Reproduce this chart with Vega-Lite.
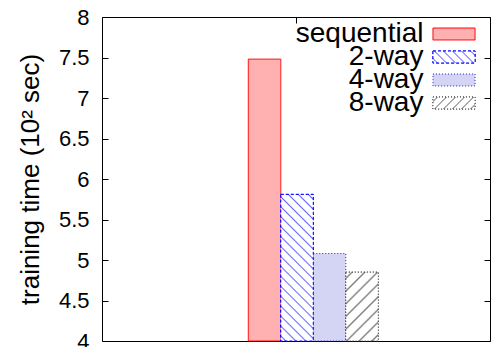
{
  "$schema": "https://vega.github.io/schema/vega-lite/v6.json",
  "width": 388,
  "height": 324,
  "autosize": "none",
  "padding": {"left": 102, "top": 17, "right": 1, "bottom": 6},
  "background": "white",
  "config": {
    "view": {"stroke": "#000", "strokeWidth": 1},
    "font": "Liberation Sans"
  },
  "data": {
    "values": [
      {"method": "sequential", "time": 7.48},
      {"method": "2-way", "time": 5.81},
      {"method": "4-way", "time": 5.08},
      {"method": "8-way", "time": 4.85}
    ]
  },
  "layer": [
    {
      "mark": {"type": "bar", "strokeWidth": 1},
      "encoding": {
        "x": {
          "field": "method", "type": "nominal",
          "scale": {"type": "band", "domain": ["_a", "_b", "_c", "_d", "sequential", "2-way", "4-way", "8-way", "_e", "_f", "_g"], "paddingInner": 0, "paddingOuter": 0.47, "align": 0.534},
          "axis": null
        },
        "y": {
          "field": "time", "type": "quantitative",
          "scale": {"domain": [4, 8], "zero": false},
          "axis": {
            "values": [4, 4.5, 5, 5.5, 6, 6.5, 7, 7.5, 8],
            "format": ".1~f",
            "grid": false,
            "domain": false,
            "tickSize": -6,
            "tickColor": "#000",
            "labelFontSize": 22,
            "labelColor": "#000",
            "labelPadding": 19,
            "title": "training time (10² sec)",
            "titleFontSize": 26,
            "titleFontWeight": "normal",
            "titleColor": "#000",
            "titlePadding": 15
          }
        },
        "y2": {"datum": 4},
        "fill": {
          "field": "method", "type": "nominal",
          "scale": {"domain": ["sequential", "2-way", "4-way", "8-way"], "range": ["#ffb0b0", "#dcdcfa", "#d4d4f4", "#e8e8e8"]},
          "legend": null
        },
        "stroke": {
          "field": "method", "type": "nominal",
          "scale": {"domain": ["sequential", "2-way", "4-way", "8-way"], "range": ["#ff0000", "#0000ff", "#2222cc", "#333333"]},
          "legend": null
        },
        "strokeDash": {
          "field": "method", "type": "nominal",
          "scale": {"domain": ["sequential", "2-way", "4-way", "8-way"], "range": [[1, 0], [3, 2], [1, 2], [1, 2]]},
          "legend": null
        }
      }
    },
    {
      "transform": [{"filter": "datum.method === '2-way'"}],
      "mark": {
        "type": "bar", "stroke": "#0000ff", "strokeWidth": 1, "strokeDash": [3, 2],
        "fill": {
          "gradient": "linear", "x1": 1, "y1": 0, "x2": 0.743, "y2": 1.164,
          "stops": [
            {"offset": 0, "color": "#ffffff"},
            {"offset": 0.0194, "color": "#ffffff"}, {"offset": 0.0278, "color": "#6a6aff"}, {"offset": 0.0361, "color": "#ffffff"},
            {"offset": 0.0750, "color": "#ffffff"}, {"offset": 0.0833, "color": "#6a6aff"}, {"offset": 0.0917, "color": "#ffffff"},
            {"offset": 0.1306, "color": "#ffffff"}, {"offset": 0.1389, "color": "#6a6aff"}, {"offset": 0.1472, "color": "#ffffff"},
            {"offset": 0.1861, "color": "#ffffff"}, {"offset": 0.1944, "color": "#6a6aff"}, {"offset": 0.2028, "color": "#ffffff"},
            {"offset": 0.2417, "color": "#ffffff"}, {"offset": 0.2500, "color": "#6a6aff"}, {"offset": 0.2583, "color": "#ffffff"},
            {"offset": 0.2972, "color": "#ffffff"}, {"offset": 0.3056, "color": "#6a6aff"}, {"offset": 0.3139, "color": "#ffffff"},
            {"offset": 0.3528, "color": "#ffffff"}, {"offset": 0.3611, "color": "#6a6aff"}, {"offset": 0.3694, "color": "#ffffff"},
            {"offset": 0.4083, "color": "#ffffff"}, {"offset": 0.4167, "color": "#6a6aff"}, {"offset": 0.4250, "color": "#ffffff"},
            {"offset": 0.4639, "color": "#ffffff"}, {"offset": 0.4722, "color": "#6a6aff"}, {"offset": 0.4806, "color": "#ffffff"},
            {"offset": 0.5194, "color": "#ffffff"}, {"offset": 0.5278, "color": "#6a6aff"}, {"offset": 0.5361, "color": "#ffffff"},
            {"offset": 0.5750, "color": "#ffffff"}, {"offset": 0.5833, "color": "#6a6aff"}, {"offset": 0.5917, "color": "#ffffff"},
            {"offset": 0.6306, "color": "#ffffff"}, {"offset": 0.6389, "color": "#6a6aff"}, {"offset": 0.6472, "color": "#ffffff"},
            {"offset": 0.6861, "color": "#ffffff"}, {"offset": 0.6944, "color": "#6a6aff"}, {"offset": 0.7028, "color": "#ffffff"},
            {"offset": 0.7417, "color": "#ffffff"}, {"offset": 0.7500, "color": "#6a6aff"}, {"offset": 0.7583, "color": "#ffffff"},
            {"offset": 0.7972, "color": "#ffffff"}, {"offset": 0.8056, "color": "#6a6aff"}, {"offset": 0.8139, "color": "#ffffff"},
            {"offset": 0.8528, "color": "#ffffff"}, {"offset": 0.8611, "color": "#6a6aff"}, {"offset": 0.8694, "color": "#ffffff"},
            {"offset": 0.9083, "color": "#ffffff"}, {"offset": 0.9167, "color": "#6a6aff"}, {"offset": 0.9250, "color": "#ffffff"},
            {"offset": 0.9639, "color": "#ffffff"}, {"offset": 0.9722, "color": "#6a6aff"}, {"offset": 0.9806, "color": "#ffffff"},
            {"offset": 1, "color": "#ffffff"}
          ]
        }
      },
      "encoding": {
        "x": {
          "field": "method", "type": "nominal",
          "scale": {"type": "band", "domain": ["_a", "_b", "_c", "_d", "sequential", "2-way", "4-way", "8-way", "_e", "_f", "_g"], "paddingInner": 0, "paddingOuter": 0.47, "align": 0.534},
          "axis": null
        },
        "y": {"field": "time", "type": "quantitative", "scale": {"domain": [4, 8], "zero": false}, "axis": null},
        "y2": {"datum": 4}
      }
    },
    {
      "transform": [{"filter": "datum.method === '8-way'"}],
      "mark": {
        "type": "bar", "stroke": "#333333", "strokeWidth": 1, "strokeDash": [1, 2],
        "fill": {
          "gradient": "linear", "x1": 0, "y1": 0, "x2": 0.567, "y2": 1.204,
          "stops": [
            {"offset": 0, "color": "#ffffff"},
            {"offset": 0.0438, "color": "#ffffff"}, {"offset": 0.0625, "color": "#7a7a7a"}, {"offset": 0.0813, "color": "#ffffff"},
            {"offset": 0.1688, "color": "#ffffff"}, {"offset": 0.1875, "color": "#7a7a7a"}, {"offset": 0.2063, "color": "#ffffff"},
            {"offset": 0.2938, "color": "#ffffff"}, {"offset": 0.3125, "color": "#7a7a7a"}, {"offset": 0.3313, "color": "#ffffff"},
            {"offset": 0.4188, "color": "#ffffff"}, {"offset": 0.4375, "color": "#7a7a7a"}, {"offset": 0.4563, "color": "#ffffff"},
            {"offset": 0.5438, "color": "#ffffff"}, {"offset": 0.5625, "color": "#7a7a7a"}, {"offset": 0.5813, "color": "#ffffff"},
            {"offset": 0.6688, "color": "#ffffff"}, {"offset": 0.6875, "color": "#7a7a7a"}, {"offset": 0.7063, "color": "#ffffff"},
            {"offset": 0.7938, "color": "#ffffff"}, {"offset": 0.8125, "color": "#7a7a7a"}, {"offset": 0.8313, "color": "#ffffff"},
            {"offset": 0.9188, "color": "#ffffff"}, {"offset": 0.9375, "color": "#7a7a7a"}, {"offset": 0.9563, "color": "#ffffff"},
            {"offset": 1, "color": "#ffffff"}
          ]
        }
      },
      "encoding": {
        "x": {
          "field": "method", "type": "nominal",
          "scale": {"type": "band", "domain": ["_a", "_b", "_c", "_d", "sequential", "2-way", "4-way", "8-way", "_e", "_f", "_g"], "paddingInner": 0, "paddingOuter": 0.47, "align": 0.534},
          "axis": null
        },
        "y": {"field": "time", "type": "quantitative", "scale": {"domain": [4, 8], "zero": false}, "axis": null},
        "y2": {"datum": 4}
      }
    },
    {
      "mark": {"type": "bar", "strokeWidth": 1, "height": {"band": 0.52}},
      "encoding": {
        "y": {
          "field": "method", "type": "nominal",
          "scale": {"type": "band", "domain": ["sequential", "2-way", "4-way", "8-way", "_1", "_2", "_3", "_4", "_5", "_6", "_7", "_8", "_9"], "paddingInner": 0, "paddingOuter": 0.543, "align": 0.22},
          "axis": null
        },
        "x": {"datum": 0.706, "type": "quantitative", "scale": {"domain": [-1, 1]}, "axis": null},
        "x2": {"datum": 0.923},
        "fill": {"field": "method", "type": "nominal", "legend": null},
        "stroke": {"field": "method", "type": "nominal", "legend": null},
        "strokeDash": {"field": "method", "type": "nominal", "legend": null}
      }
    },
    {
      "transform": [{"filter": "datum.method === '2-way'"}],
      "mark": {
        "type": "bar", "stroke": "#0000ff", "strokeWidth": 1, "strokeDash": [3, 2], "height": {"band": 0.52},
        "fill": {
          "gradient": "linear", "x1": 1, "y1": 0, "x2": -0.189, "y2": 0.34,
          "stops": [
            {"offset": 0, "color": "#ffffff"},
            {"offset": 0.0583, "color": "#ffffff"}, {"offset": 0.0833, "color": "#6a6aff"}, {"offset": 0.1083, "color": "#ffffff"},
            {"offset": 0.2250, "color": "#ffffff"}, {"offset": 0.2500, "color": "#6a6aff"}, {"offset": 0.2750, "color": "#ffffff"},
            {"offset": 0.3917, "color": "#ffffff"}, {"offset": 0.4167, "color": "#6a6aff"}, {"offset": 0.4417, "color": "#ffffff"},
            {"offset": 0.5583, "color": "#ffffff"}, {"offset": 0.5833, "color": "#6a6aff"}, {"offset": 0.6083, "color": "#ffffff"},
            {"offset": 0.7250, "color": "#ffffff"}, {"offset": 0.7500, "color": "#6a6aff"}, {"offset": 0.7750, "color": "#ffffff"},
            {"offset": 0.8917, "color": "#ffffff"}, {"offset": 0.9167, "color": "#6a6aff"}, {"offset": 0.9417, "color": "#ffffff"},
            {"offset": 1, "color": "#ffffff"}
          ]
        }
      },
      "encoding": {
        "y": {
          "field": "method", "type": "nominal",
          "scale": {"type": "band", "domain": ["sequential", "2-way", "4-way", "8-way", "_1", "_2", "_3", "_4", "_5", "_6", "_7", "_8", "_9"], "paddingInner": 0, "paddingOuter": 0.543, "align": 0.22},
          "axis": null
        },
        "x": {"datum": 0.706, "type": "quantitative", "scale": {"domain": [-1, 1]}, "axis": null},
        "x2": {"datum": 0.923}
      }
    },
    {
      "transform": [{"filter": "datum.method === '8-way'"}],
      "mark": {
        "type": "bar", "stroke": "#333333", "strokeWidth": 1, "strokeDash": [1, 2], "height": {"band": 0.52},
        "fill": {
          "gradient": "linear", "x1": 0, "y1": 0, "x2": 1.189, "y2": 0.34,
          "stops": [
            {"offset": 0, "color": "#ffffff"},
            {"offset": 0.0583, "color": "#ffffff"}, {"offset": 0.0833, "color": "#7a7a7a"}, {"offset": 0.1083, "color": "#ffffff"},
            {"offset": 0.2250, "color": "#ffffff"}, {"offset": 0.2500, "color": "#7a7a7a"}, {"offset": 0.2750, "color": "#ffffff"},
            {"offset": 0.3917, "color": "#ffffff"}, {"offset": 0.4167, "color": "#7a7a7a"}, {"offset": 0.4417, "color": "#ffffff"},
            {"offset": 0.5583, "color": "#ffffff"}, {"offset": 0.5833, "color": "#7a7a7a"}, {"offset": 0.6083, "color": "#ffffff"},
            {"offset": 0.7250, "color": "#ffffff"}, {"offset": 0.7500, "color": "#7a7a7a"}, {"offset": 0.7750, "color": "#ffffff"},
            {"offset": 0.8917, "color": "#ffffff"}, {"offset": 0.9167, "color": "#7a7a7a"}, {"offset": 0.9417, "color": "#ffffff"},
            {"offset": 1, "color": "#ffffff"}
          ]
        }
      },
      "encoding": {
        "y": {
          "field": "method", "type": "nominal",
          "scale": {"type": "band", "domain": ["sequential", "2-way", "4-way", "8-way", "_1", "_2", "_3", "_4", "_5", "_6", "_7", "_8", "_9"], "paddingInner": 0, "paddingOuter": 0.543, "align": 0.22},
          "axis": null
        },
        "x": {"datum": 0.706, "type": "quantitative", "scale": {"domain": [-1, 1]}, "axis": null},
        "x2": {"datum": 0.923}
      }
    },
    {
      "mark": {"type": "text", "align": "right", "baseline": "middle", "fontSize": 28, "color": "#000"},
      "encoding": {
        "y": {
          "field": "method", "type": "nominal",
          "scale": {"type": "band", "domain": ["sequential", "2-way", "4-way", "8-way", "_1", "_2", "_3", "_4", "_5", "_6", "_7", "_8", "_9"], "paddingInner": 0, "paddingOuter": 0.543, "align": 0.22},
          "axis": null
        },
        "x": {"datum": 0.657, "type": "quantitative", "scale": {"domain": [-1, 1]}, "axis": null},
        "text": {"field": "method"}
      }
    },
    {
      "mark": {"type": "rule", "opacity": 0},
      "encoding": {
        "x": {
          "datum": 0, "type": "quantitative",
          "scale": {"domain": [-1, 1]},
          "axis": {"orient": "top", "values": [0], "labels": false, "tickSize": -6, "tickColor": "#000", "domain": false, "grid": false, "title": null}
        },
        "y": {
          "datum": 4, "type": "quantitative",
          "scale": {"domain": [4, 8], "zero": false},
          "axis": {"orient": "right", "values": [4, 4.5, 5, 5.5, 6, 6.5, 7, 7.5, 8], "labels": false, "tickSize": -6, "tickColor": "#000", "domain": false, "grid": false, "title": null}
        }
      }
    }
  ],
  "resolve": {
    "scale": {"x": "independent", "y": "independent"},
    "axis": {"x": "independent", "y": "independent"}
  }
}
